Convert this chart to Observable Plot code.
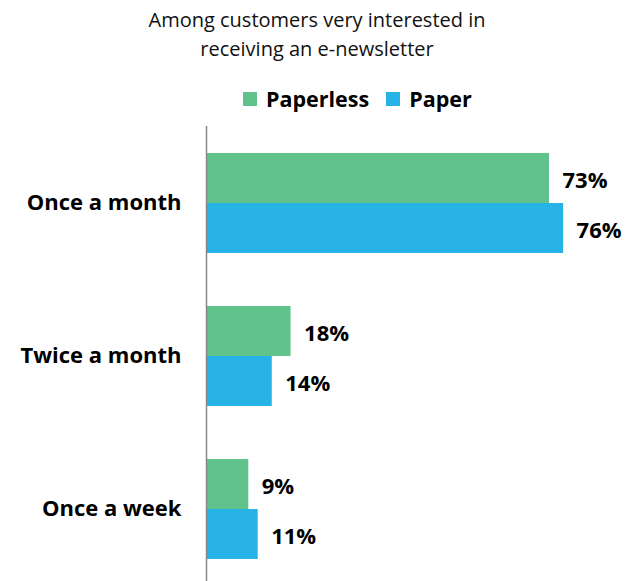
<!DOCTYPE html>
<html><head><meta charset="utf-8">
<script src="https://cdn.jsdelivr.net/npm/d3@7"></script>
<script src="https://cdn.jsdelivr.net/npm/@observablehq/plot@0.6"></script>
<style>
html,body{margin:0;padding:0;background:#fff;overflow:hidden;width:627px;height:581px}
#wrap{position:relative;width:627px;height:581px}
#title{position:absolute;left:0;top:5px;width:634px;text-align:center;font:20px/29px "Open Sans";color:#111;z-index:2}
#legend{position:absolute;top:87px;left:243px;display:flex;align-items:center;font:bold 21.5px/24px "Open Sans";color:#000;z-index:2}
.sw{width:14px;height:14px;display:inline-block;margin-right:9px}
.item{display:flex;align-items:center;margin-right:17px}
#chart{position:absolute;left:0;top:0}
</style></head><body><div id="wrap">
<div id="title">Among customers very interested in<br>receiving an e-newsletter</div>
<div id="legend"></div>
<div id="chart"></div>
</div>
<script>
const categories = ["Once a month", "Twice a month", "Once a week"];
const series = ["Paperless", "Paper"];
const paperless = [73, 18, 9];
const paper = [76, 14, 11];
const colors = ["#61c28b", "#27b3e6"];

const data = categories.flatMap((c, i) => [
  {category: c, series: series[0], value: paperless[i]},
  {category: c, series: series[1], value: paper[i]}
]);

const legend = document.getElementById("legend");
series.forEach((s, i) => {
  const it = document.createElement("div");
  it.className = "item";
  it.innerHTML = `<span class="sw" style="background:${colors[i]}"></span><span>${s}</span>`;
  legend.appendChild(it);
});

const chart = Plot.plot({
  width: 627, height: 585,
  marginTop: 126, marginBottom: 0, marginLeft: 206, marginRight: 0,
  style: {fontFamily: "Open Sans", background: "transparent"},
  x: {domain: [0, 89.6], axis: null},
  y: {domain: series, paddingInner: 0, paddingOuter: 0.515, axis: null},
  fy: {domain: categories, padding: 0, axis: null},
  color: {domain: series, range: colors},
  marks: [
    Plot.barX(data, {x: "value", y: "series", fy: "category", fill: "series"}),
    Plot.text(data, {x: "value", y: "series", fy: "category", text: d => d.value + "%", textAnchor: "start", dx: 13, dy: 2, fontSize: 22, fontWeight: "bold", fill: "#000"}),
    Plot.axisFy({anchor: "left", tickSize: 0, tickPadding: 25, fontSize: 22, fontWeight: "bold", color: "#000", label: null}),
    Plot.ruleX([0], {stroke: "#888", strokeWidth: 1.5})
  ]
});
document.getElementById("chart").appendChild(chart);
</script>
</body></html>
